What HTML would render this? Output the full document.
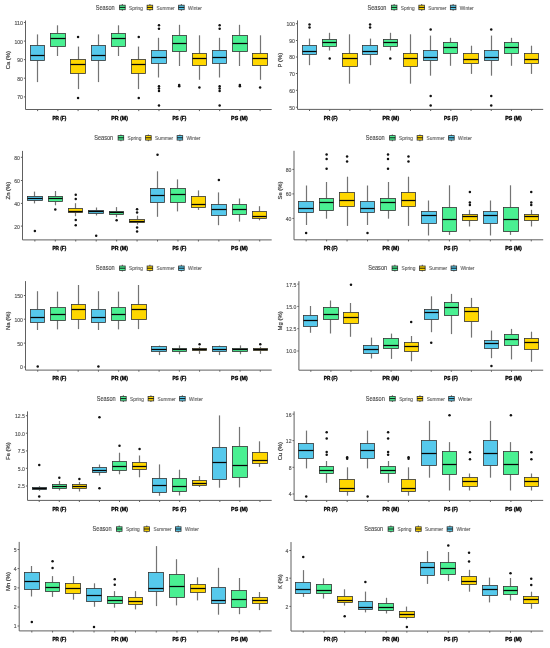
<!DOCTYPE html>
<html><head><meta charset="utf-8"><title>Boxplots</title><style>
*{margin:0;padding:0}
html,body{width:550px;height:648px;background:#fff;overflow:hidden}
svg{display:block}
text{font-family:"Liberation Sans",sans-serif;stroke-width:0.14px;stroke:currentColor}
.ax{stroke:#606060;stroke-width:1.0}
.wk{stroke:#747474;stroke-width:1.2}
.bx{stroke:#333333;stroke-width:0.8}
.md{stroke:#050505;stroke-width:1.25}
.tl{stroke-width:0.16px;font-size:6.0px;fill:#555555;color:#555555;text-anchor:end}
.yl{stroke-width:0.2px;font-size:5.9px;fill:#444;color:#444;text-anchor:middle}
.gl{stroke-width:0.35px;font-size:5.6px;fill:#000;color:#000;font-weight:bold;text-anchor:middle}
.lt{stroke-width:0.1px;font-size:6.3px;fill:#444;color:#444}
.ll{font-size:5.1px;fill:#666;color:#666}
circle{fill:#111}
</style></head>
<body><svg style="will-change:transform" width="550" height="648" viewBox="0 0 550 648">
<g><line x1="37.5" y1="34.4" x2="37.5" y2="45.5" class="wk"/><line x1="37.5" y1="60.5" x2="37.5" y2="82.1" class="wk"/><rect x="30.5" y="45.5" width="14" height="15" fill="#56c9ec" class="bx"/><line x1="30.5" y1="55.5" x2="44.5" y2="55.5" class="md"/><line x1="37.62" y1="109.5" x2="37.62" y2="111.1" class="ax"/><line x1="57.5" y1="25.3" x2="57.5" y2="33.5" class="wk"/><line x1="57.5" y1="46.5" x2="57.5" y2="56" class="wk"/><rect x="50.5" y="33.5" width="15" height="13" fill="#4af092" class="bx"/><line x1="50.5" y1="38.5" x2="65.5" y2="38.5" class="md"/><line x1="57.85" y1="109.5" x2="57.85" y2="111.1" class="ax"/><line x1="78.5" y1="46.6" x2="78.5" y2="59.5" class="wk"/><line x1="78.5" y1="73.5" x2="78.5" y2="89.1" class="wk"/><rect x="70.5" y="59.5" width="15" height="14" fill="#ffd700" class="bx"/><line x1="70.5" y1="64.5" x2="85.5" y2="64.5" class="md"/><circle cx="78.08" cy="36.9" r="1.25"/><circle cx="78.08" cy="98" r="1.25"/><line x1="78.08" y1="109.5" x2="78.08" y2="111.1" class="ax"/><text x="59.35" y="119.72" class="gl" textLength="13.8" lengthAdjust="spacingAndGlyphs">PR (F)</text><line x1="98.5" y1="34.4" x2="98.5" y2="45.5" class="wk"/><line x1="98.5" y1="60.5" x2="98.5" y2="82.1" class="wk"/><rect x="91.5" y="45.5" width="14" height="15" fill="#56c9ec" class="bx"/><line x1="91.5" y1="55.5" x2="105.5" y2="55.5" class="md"/><line x1="98.3" y1="109.5" x2="98.3" y2="111.1" class="ax"/><line x1="118.5" y1="25.3" x2="118.5" y2="33.5" class="wk"/><line x1="118.5" y1="46.5" x2="118.5" y2="56" class="wk"/><rect x="111.5" y="33.5" width="14" height="13" fill="#4af092" class="bx"/><line x1="111.5" y1="38.5" x2="125.5" y2="38.5" class="md"/><line x1="118.53" y1="109.5" x2="118.53" y2="111.1" class="ax"/><line x1="138.5" y1="46.6" x2="138.5" y2="59.5" class="wk"/><line x1="138.5" y1="73.5" x2="138.5" y2="89.1" class="wk"/><rect x="131.5" y="59.5" width="14" height="14" fill="#ffd700" class="bx"/><line x1="131.5" y1="64.5" x2="145.5" y2="64.5" class="md"/><circle cx="138.75" cy="36.9" r="1.25"/><circle cx="138.75" cy="98" r="1.25"/><line x1="138.75" y1="109.5" x2="138.75" y2="111.1" class="ax"/><text x="119.6" y="119.72" class="gl" textLength="16.6" lengthAdjust="spacingAndGlyphs">PR (M)</text><line x1="158.5" y1="37.8" x2="158.5" y2="50.5" class="wk"/><line x1="158.5" y1="63.5" x2="158.5" y2="77.5" class="wk"/><rect x="151.5" y="50.5" width="15" height="13" fill="#56c9ec" class="bx"/><line x1="151.5" y1="57.5" x2="166.5" y2="57.5" class="md"/><circle cx="158.97" cy="25.3" r="1.25"/><circle cx="158.97" cy="28.7" r="1.25"/><circle cx="158.97" cy="86.3" r="1.25"/><circle cx="158.97" cy="88.5" r="1.25"/><circle cx="158.97" cy="91.1" r="1.25"/><circle cx="158.97" cy="105.5" r="1.25"/><line x1="158.97" y1="109.5" x2="158.97" y2="111.1" class="ax"/><line x1="179.5" y1="24.8" x2="179.5" y2="35.5" class="wk"/><line x1="179.5" y1="51.5" x2="179.5" y2="66" class="wk"/><rect x="172.5" y="35.5" width="14" height="16" fill="#4af092" class="bx"/><line x1="172.5" y1="43.5" x2="186.5" y2="43.5" class="md"/><circle cx="179.2" cy="85" r="1.25"/><circle cx="179.2" cy="86.2" r="1.25"/><line x1="179.2" y1="109.5" x2="179.2" y2="111.1" class="ax"/><line x1="199.5" y1="35.3" x2="199.5" y2="53.5" class="wk"/><line x1="199.5" y1="65.5" x2="199.5" y2="79.8" class="wk"/><rect x="192.5" y="53.5" width="14" height="12" fill="#ffd700" class="bx"/><line x1="192.5" y1="58.5" x2="206.5" y2="58.5" class="md"/><circle cx="199.42" cy="87.5" r="1.25"/><line x1="199.42" y1="109.5" x2="199.42" y2="111.1" class="ax"/><text x="179.35" y="119.72" class="gl" textLength="13.8" lengthAdjust="spacingAndGlyphs">PS (F)</text><line x1="219.5" y1="37.8" x2="219.5" y2="50.5" class="wk"/><line x1="219.5" y1="63.5" x2="219.5" y2="77.5" class="wk"/><rect x="212.5" y="50.5" width="14" height="13" fill="#56c9ec" class="bx"/><line x1="212.5" y1="57.5" x2="226.5" y2="57.5" class="md"/><circle cx="219.65" cy="25.3" r="1.25"/><circle cx="219.65" cy="28.7" r="1.25"/><circle cx="219.65" cy="86.3" r="1.25"/><circle cx="219.65" cy="88.5" r="1.25"/><circle cx="219.65" cy="91.1" r="1.25"/><circle cx="219.65" cy="105.5" r="1.25"/><line x1="219.65" y1="109.5" x2="219.65" y2="111.1" class="ax"/><line x1="239.5" y1="24.8" x2="239.5" y2="35.5" class="wk"/><line x1="239.5" y1="51.5" x2="239.5" y2="66" class="wk"/><rect x="232.5" y="35.5" width="15" height="16" fill="#4af092" class="bx"/><line x1="232.5" y1="43.5" x2="247.5" y2="43.5" class="md"/><circle cx="239.87" cy="85" r="1.25"/><circle cx="239.87" cy="86.2" r="1.25"/><line x1="239.87" y1="109.5" x2="239.87" y2="111.1" class="ax"/><line x1="260.5" y1="35.3" x2="260.5" y2="53.5" class="wk"/><line x1="260.5" y1="65.5" x2="260.5" y2="79.8" class="wk"/><rect x="252.5" y="53.5" width="15" height="12" fill="#ffd700" class="bx"/><line x1="252.5" y1="58.5" x2="267.5" y2="58.5" class="md"/><circle cx="260.1" cy="87.5" r="1.25"/><line x1="260.1" y1="109.5" x2="260.1" y2="111.1" class="ax"/><text x="239.4" y="119.72" class="gl" textLength="16.6" lengthAdjust="spacingAndGlyphs">PS (M)</text><line x1="25.5" y1="20.5" x2="25.5" y2="109.5" class="ax"/><line x1="25.5" y1="109.5" x2="271.7" y2="109.5" class="ax"/><line x1="23.9" y1="22.5" x2="25.5" y2="22.5" class="ax"/><text x="22.9" y="24.96" class="tl" textLength="8.51" lengthAdjust="spacingAndGlyphs">110</text><line x1="23.9" y1="41.1" x2="25.5" y2="41.1" class="ax"/><text x="22.9" y="43.56" class="tl" textLength="8.51" lengthAdjust="spacingAndGlyphs">100</text><line x1="23.9" y1="59.6" x2="25.5" y2="59.6" class="ax"/><text x="22.9" y="62.06" class="tl" textLength="5.67" lengthAdjust="spacingAndGlyphs">90</text><line x1="23.9" y1="78.2" x2="25.5" y2="78.2" class="ax"/><text x="22.9" y="80.66" class="tl" textLength="5.67" lengthAdjust="spacingAndGlyphs">80</text><line x1="23.9" y1="96.9" x2="25.5" y2="96.9" class="ax"/><text x="22.9" y="99.36" class="tl" textLength="5.67" lengthAdjust="spacingAndGlyphs">70</text><text transform="translate(9.72,60.2) rotate(-90)" class="yl">Ca (%)</text><text x="95.7" y="9.67" class="lt" textLength="19.0" lengthAdjust="spacingAndGlyphs">Season</text><line x1="122.4" y1="4" x2="122.4" y2="10.8" class="wk"/><rect x="119.6" y="5.2" width="5.6" height="4.5" fill="#4af092" class="bx"/><line x1="119.6" y1="7.4" x2="125.2" y2="7.4" class="md" style="stroke-width:0.9"/><text x="129.1" y="9.64" class="ll" textLength="13.86" lengthAdjust="spacingAndGlyphs">Spring</text><line x1="149.9" y1="4" x2="149.9" y2="10.8" class="wk"/><rect x="147.1" y="5.2" width="5.6" height="4.5" fill="#ffd700" class="bx"/><line x1="147.1" y1="7.4" x2="152.7" y2="7.4" class="md" style="stroke-width:0.9"/><text x="156.6" y="9.64" class="ll" textLength="18.11" lengthAdjust="spacingAndGlyphs">Summer</text><line x1="181.4" y1="4" x2="181.4" y2="10.8" class="wk"/><rect x="178.6" y="5.2" width="5.6" height="4.5" fill="#56c9ec" class="bx"/><line x1="178.6" y1="7.4" x2="184.2" y2="7.4" class="md" style="stroke-width:0.9"/><text x="188.1" y="9.64" class="ll" textLength="13.85" lengthAdjust="spacingAndGlyphs">Winter</text></g>
<g><line x1="309.5" y1="38.6" x2="309.5" y2="45.5" class="wk"/><line x1="309.5" y1="54.5" x2="309.5" y2="65.2" class="wk"/><rect x="302.5" y="45.5" width="14" height="9" fill="#56c9ec" class="bx"/><line x1="302.5" y1="51.5" x2="316.5" y2="51.5" class="md"/><circle cx="309.51" cy="24.5" r="1.25"/><circle cx="309.51" cy="27.4" r="1.25"/><line x1="309.51" y1="109.4" x2="309.51" y2="111" class="ax"/><line x1="329.5" y1="32.8" x2="329.5" y2="39.5" class="wk"/><line x1="329.5" y1="46.5" x2="329.5" y2="50.5" class="wk"/><rect x="322.5" y="39.5" width="14" height="7" fill="#4af092" class="bx"/><line x1="322.5" y1="42.5" x2="336.5" y2="42.5" class="md"/><circle cx="329.7" cy="58.6" r="1.25"/><line x1="329.7" y1="109.4" x2="329.7" y2="111" class="ax"/><line x1="349.5" y1="34.3" x2="349.5" y2="53.5" class="wk"/><line x1="349.5" y1="66.5" x2="349.5" y2="83.7" class="wk"/><rect x="342.5" y="53.5" width="15" height="13" fill="#ffd700" class="bx"/><line x1="342.5" y1="58.5" x2="357.5" y2="58.5" class="md"/><line x1="349.89" y1="109.4" x2="349.89" y2="111" class="ax"/><text x="330.7" y="119.62" class="gl" textLength="13.8" lengthAdjust="spacingAndGlyphs">PR (F)</text><line x1="370.5" y1="38.6" x2="370.5" y2="45.5" class="wk"/><line x1="370.5" y1="54.5" x2="370.5" y2="65.2" class="wk"/><rect x="362.5" y="45.5" width="15" height="9" fill="#56c9ec" class="bx"/><line x1="362.5" y1="51.5" x2="377.5" y2="51.5" class="md"/><circle cx="370.08" cy="24.5" r="1.25"/><circle cx="370.08" cy="27.4" r="1.25"/><line x1="370.08" y1="109.4" x2="370.08" y2="111" class="ax"/><line x1="390.5" y1="32.8" x2="390.5" y2="39.5" class="wk"/><line x1="390.5" y1="46.5" x2="390.5" y2="50.5" class="wk"/><rect x="383.5" y="39.5" width="14" height="7" fill="#4af092" class="bx"/><line x1="383.5" y1="42.5" x2="397.5" y2="42.5" class="md"/><circle cx="390.27" cy="58.6" r="1.25"/><line x1="390.27" y1="109.4" x2="390.27" y2="111" class="ax"/><line x1="410.5" y1="34.3" x2="410.5" y2="53.5" class="wk"/><line x1="410.5" y1="66.5" x2="410.5" y2="83.7" class="wk"/><rect x="403.5" y="53.5" width="14" height="13" fill="#ffd700" class="bx"/><line x1="403.5" y1="58.5" x2="417.5" y2="58.5" class="md"/><line x1="410.47" y1="109.4" x2="410.47" y2="111" class="ax"/><text x="390.9" y="119.62" class="gl" textLength="16.6" lengthAdjust="spacingAndGlyphs">PR (M)</text><line x1="430.5" y1="35.6" x2="430.5" y2="50.5" class="wk"/><line x1="430.5" y1="60.5" x2="430.5" y2="75.7" class="wk"/><rect x="423.5" y="50.5" width="14" height="10" fill="#56c9ec" class="bx"/><line x1="423.5" y1="57.5" x2="437.5" y2="57.5" class="md"/><circle cx="430.66" cy="29.5" r="1.25"/><circle cx="430.66" cy="96.1" r="1.25"/><circle cx="430.66" cy="105.6" r="1.25"/><line x1="430.66" y1="109.4" x2="430.66" y2="111" class="ax"/><line x1="450.5" y1="37.8" x2="450.5" y2="42.5" class="wk"/><line x1="450.5" y1="53.5" x2="450.5" y2="65.8" class="wk"/><rect x="443.5" y="42.5" width="14" height="11" fill="#4af092" class="bx"/><line x1="443.5" y1="47.5" x2="457.5" y2="47.5" class="md"/><line x1="450.85" y1="109.4" x2="450.85" y2="111" class="ax"/><line x1="471.5" y1="45.7" x2="471.5" y2="53.5" class="wk"/><line x1="471.5" y1="63.5" x2="471.5" y2="73.9" class="wk"/><rect x="463.5" y="53.5" width="15" height="10" fill="#ffd700" class="bx"/><line x1="463.5" y1="59.5" x2="478.5" y2="59.5" class="md"/><line x1="471.04" y1="109.4" x2="471.04" y2="111" class="ax"/><text x="451" y="119.62" class="gl" textLength="13.8" lengthAdjust="spacingAndGlyphs">PS (F)</text><line x1="491.5" y1="35.6" x2="491.5" y2="50.5" class="wk"/><line x1="491.5" y1="60.5" x2="491.5" y2="75.7" class="wk"/><rect x="484.5" y="50.5" width="14" height="10" fill="#56c9ec" class="bx"/><line x1="484.5" y1="57.5" x2="498.5" y2="57.5" class="md"/><circle cx="491.23" cy="29.5" r="1.25"/><circle cx="491.23" cy="96.1" r="1.25"/><circle cx="491.23" cy="105.6" r="1.25"/><line x1="491.23" y1="109.4" x2="491.23" y2="111" class="ax"/><line x1="511.5" y1="37.8" x2="511.5" y2="42.5" class="wk"/><line x1="511.5" y1="53.5" x2="511.5" y2="65.8" class="wk"/><rect x="504.5" y="42.5" width="14" height="11" fill="#4af092" class="bx"/><line x1="504.5" y1="47.5" x2="518.5" y2="47.5" class="md"/><line x1="511.43" y1="109.4" x2="511.43" y2="111" class="ax"/><line x1="531.5" y1="45.7" x2="531.5" y2="53.5" class="wk"/><line x1="531.5" y1="63.5" x2="531.5" y2="73.9" class="wk"/><rect x="524.5" y="53.5" width="14" height="10" fill="#ffd700" class="bx"/><line x1="524.5" y1="59.5" x2="538.5" y2="59.5" class="md"/><line x1="531.62" y1="109.4" x2="531.62" y2="111" class="ax"/><text x="513.5" y="119.62" class="gl" textLength="16.6" lengthAdjust="spacingAndGlyphs">PS (M)</text><line x1="297.5" y1="20.4" x2="297.5" y2="109.4" class="ax"/><line x1="297.5" y1="109.4" x2="543.2" y2="109.4" class="ax"/><line x1="295.9" y1="23.7" x2="297.5" y2="23.7" class="ax"/><text x="294.9" y="26.16" class="tl" textLength="8.51" lengthAdjust="spacingAndGlyphs">100</text><line x1="295.9" y1="40.5" x2="297.5" y2="40.5" class="ax"/><text x="294.9" y="42.96" class="tl" textLength="5.67" lengthAdjust="spacingAndGlyphs">90</text><line x1="295.9" y1="57" x2="297.5" y2="57" class="ax"/><text x="294.9" y="59.46" class="tl" textLength="5.67" lengthAdjust="spacingAndGlyphs">80</text><line x1="295.9" y1="73.5" x2="297.5" y2="73.5" class="ax"/><text x="294.9" y="75.96" class="tl" textLength="5.67" lengthAdjust="spacingAndGlyphs">70</text><line x1="295.9" y1="90.3" x2="297.5" y2="90.3" class="ax"/><text x="294.9" y="92.76" class="tl" textLength="5.67" lengthAdjust="spacingAndGlyphs">60</text><line x1="295.9" y1="107.2" x2="297.5" y2="107.2" class="ax"/><text x="294.9" y="109.66" class="tl" textLength="5.67" lengthAdjust="spacingAndGlyphs">50</text><text transform="translate(282.02,60.1) rotate(-90)" class="yl">P (%)</text><text x="367.45" y="9.67" class="lt" textLength="19.0" lengthAdjust="spacingAndGlyphs">Season</text><line x1="394.15" y1="4" x2="394.15" y2="10.8" class="wk"/><rect x="391.35" y="5.2" width="5.6" height="4.5" fill="#4af092" class="bx"/><line x1="391.35" y1="7.4" x2="396.95" y2="7.4" class="md" style="stroke-width:0.9"/><text x="400.85" y="9.64" class="ll" textLength="13.86" lengthAdjust="spacingAndGlyphs">Spring</text><line x1="421.65" y1="4" x2="421.65" y2="10.8" class="wk"/><rect x="418.85" y="5.2" width="5.6" height="4.5" fill="#ffd700" class="bx"/><line x1="418.85" y1="7.4" x2="424.45" y2="7.4" class="md" style="stroke-width:0.9"/><text x="428.35" y="9.64" class="ll" textLength="18.11" lengthAdjust="spacingAndGlyphs">Summer</text><line x1="453.15" y1="4" x2="453.15" y2="10.8" class="wk"/><rect x="450.35" y="5.2" width="5.6" height="4.5" fill="#56c9ec" class="bx"/><line x1="450.35" y1="7.4" x2="455.95" y2="7.4" class="md" style="stroke-width:0.9"/><text x="459.85" y="9.64" class="ll" textLength="13.85" lengthAdjust="spacingAndGlyphs">Winter</text></g>
<g><line x1="34.5" y1="191.6" x2="34.5" y2="196.5" class="wk"/><line x1="34.5" y1="200.5" x2="34.5" y2="203.4" class="wk"/><rect x="27.5" y="196.5" width="15" height="4" fill="#56c9ec" class="bx"/><line x1="27.5" y1="198.5" x2="42.5" y2="198.5" class="md"/><circle cx="34.86" cy="231" r="1.25"/><line x1="34.86" y1="239.9" x2="34.86" y2="241.5" class="ax"/><line x1="55.5" y1="191" x2="55.5" y2="196.5" class="wk"/><line x1="55.5" y1="201.5" x2="55.5" y2="205.3" class="wk"/><rect x="48.5" y="196.5" width="14" height="5" fill="#4af092" class="bx"/><line x1="48.5" y1="198.5" x2="62.5" y2="198.5" class="md"/><circle cx="55.3" cy="209.5" r="1.25"/><line x1="55.3" y1="239.9" x2="55.3" y2="241.5" class="ax"/><line x1="75.5" y1="203.2" x2="75.5" y2="208.5" class="wk"/><line x1="75.5" y1="212.5" x2="75.5" y2="216.2" class="wk"/><rect x="68.5" y="208.5" width="14" height="4" fill="#ffd700" class="bx"/><line x1="68.5" y1="211.5" x2="82.5" y2="211.5" class="md"/><circle cx="75.74" cy="194.8" r="1.25"/><circle cx="75.74" cy="198.9" r="1.25"/><circle cx="75.74" cy="220" r="1.25"/><circle cx="75.74" cy="225.3" r="1.25"/><line x1="75.74" y1="239.9" x2="75.74" y2="241.5" class="ax"/><text x="59.35" y="250.12" class="gl" textLength="13.8" lengthAdjust="spacingAndGlyphs">PR (F)</text><line x1="96.5" y1="207.5" x2="96.5" y2="210.5" class="wk"/><line x1="96.5" y1="213.5" x2="96.5" y2="215.5" class="wk"/><rect x="88.5" y="210.5" width="15" height="3" fill="#56c9ec" class="bx"/><line x1="88.5" y1="211.5" x2="103.5" y2="211.5" class="md"/><circle cx="96.19" cy="235.7" r="1.25"/><line x1="96.19" y1="239.9" x2="96.19" y2="241.5" class="ax"/><line x1="116.5" y1="207.1" x2="116.5" y2="211.5" class="wk"/><line x1="116.5" y1="214.5" x2="116.5" y2="217.3" class="wk"/><rect x="109.5" y="211.5" width="14" height="3" fill="#4af092" class="bx"/><line x1="109.5" y1="212.5" x2="123.5" y2="212.5" class="md"/><circle cx="116.63" cy="220.3" r="1.25"/><line x1="116.63" y1="239.9" x2="116.63" y2="241.5" class="ax"/><line x1="137.5" y1="215.7" x2="137.5" y2="219.5" class="wk"/><line x1="137.5" y1="222.5" x2="137.5" y2="224.6" class="wk"/><rect x="129.5" y="219.5" width="15" height="3" fill="#ffd700" class="bx"/><line x1="129.5" y1="221.5" x2="144.5" y2="221.5" class="md"/><circle cx="137.07" cy="209.2" r="1.25"/><circle cx="137.07" cy="212.5" r="1.25"/><circle cx="137.07" cy="227.5" r="1.25"/><circle cx="137.07" cy="231.6" r="1.25"/><line x1="137.07" y1="239.9" x2="137.07" y2="241.5" class="ax"/><text x="119.6" y="250.12" class="gl" textLength="16.6" lengthAdjust="spacingAndGlyphs">PR (M)</text><line x1="157.5" y1="171.3" x2="157.5" y2="188.5" class="wk"/><line x1="157.5" y1="202.5" x2="157.5" y2="216.8" class="wk"/><rect x="150.5" y="188.5" width="14" height="14" fill="#56c9ec" class="bx"/><line x1="150.5" y1="195.5" x2="164.5" y2="195.5" class="md"/><circle cx="157.52" cy="154.7" r="1.25"/><line x1="157.52" y1="239.9" x2="157.52" y2="241.5" class="ax"/><line x1="177.5" y1="179.4" x2="177.5" y2="188.5" class="wk"/><line x1="177.5" y1="202.5" x2="177.5" y2="211.4" class="wk"/><rect x="170.5" y="188.5" width="15" height="14" fill="#4af092" class="bx"/><line x1="170.5" y1="194.5" x2="185.5" y2="194.5" class="md"/><line x1="177.96" y1="239.9" x2="177.96" y2="241.5" class="ax"/><line x1="198.5" y1="190.4" x2="198.5" y2="196.5" class="wk"/><line x1="198.5" y1="207.5" x2="198.5" y2="209.9" class="wk"/><rect x="191.5" y="196.5" width="14" height="11" fill="#ffd700" class="bx"/><line x1="191.5" y1="204.5" x2="205.5" y2="204.5" class="md"/><line x1="198.4" y1="239.9" x2="198.4" y2="241.5" class="ax"/><text x="179.35" y="250.12" class="gl" textLength="13.8" lengthAdjust="spacingAndGlyphs">PS (F)</text><line x1="218.5" y1="192.4" x2="218.5" y2="204.5" class="wk"/><line x1="218.5" y1="215.5" x2="218.5" y2="225.2" class="wk"/><rect x="211.5" y="204.5" width="15" height="11" fill="#56c9ec" class="bx"/><line x1="211.5" y1="209.5" x2="226.5" y2="209.5" class="md"/><circle cx="218.85" cy="179.9" r="1.25"/><line x1="218.85" y1="239.9" x2="218.85" y2="241.5" class="ax"/><line x1="239.5" y1="198.5" x2="239.5" y2="204.5" class="wk"/><line x1="239.5" y1="214.5" x2="239.5" y2="221.6" class="wk"/><rect x="232.5" y="204.5" width="14" height="10" fill="#4af092" class="bx"/><line x1="232.5" y1="209.5" x2="246.5" y2="209.5" class="md"/><line x1="239.29" y1="239.9" x2="239.29" y2="241.5" class="ax"/><line x1="259.5" y1="206.2" x2="259.5" y2="211.5" class="wk"/><line x1="259.5" y1="218.5" x2="259.5" y2="220.3" class="wk"/><rect x="252.5" y="211.5" width="14" height="7" fill="#ffd700" class="bx"/><line x1="252.5" y1="216.5" x2="266.5" y2="216.5" class="md"/><line x1="259.73" y1="239.9" x2="259.73" y2="241.5" class="ax"/><text x="239.4" y="250.12" class="gl" textLength="16.6" lengthAdjust="spacingAndGlyphs">PS (M)</text><line x1="22.5" y1="150.9" x2="22.5" y2="239.9" class="ax"/><line x1="22.5" y1="239.9" x2="271.7" y2="239.9" class="ax"/><line x1="20.9" y1="157.3" x2="22.5" y2="157.3" class="ax"/><text x="19.9" y="159.76" class="tl" textLength="5.67" lengthAdjust="spacingAndGlyphs">80</text><line x1="20.9" y1="180.5" x2="22.5" y2="180.5" class="ax"/><text x="19.9" y="182.96" class="tl" textLength="5.67" lengthAdjust="spacingAndGlyphs">60</text><line x1="20.9" y1="203.4" x2="22.5" y2="203.4" class="ax"/><text x="19.9" y="205.86" class="tl" textLength="5.67" lengthAdjust="spacingAndGlyphs">40</text><line x1="20.9" y1="226.1" x2="22.5" y2="226.1" class="ax"/><text x="19.9" y="228.56" class="tl" textLength="5.67" lengthAdjust="spacingAndGlyphs">20</text><text transform="translate(9.72,190.6) rotate(-90)" class="yl">Zn (%)</text><text x="94.2" y="140.07" class="lt" textLength="19.0" lengthAdjust="spacingAndGlyphs">Season</text><line x1="120.9" y1="134.4" x2="120.9" y2="141.2" class="wk"/><rect x="118.1" y="135.6" width="5.6" height="4.5" fill="#4af092" class="bx"/><line x1="118.1" y1="137.8" x2="123.7" y2="137.8" class="md" style="stroke-width:0.9"/><text x="127.6" y="140.04" class="ll" textLength="13.86" lengthAdjust="spacingAndGlyphs">Spring</text><line x1="148.4" y1="134.4" x2="148.4" y2="141.2" class="wk"/><rect x="145.6" y="135.6" width="5.6" height="4.5" fill="#ffd700" class="bx"/><line x1="145.6" y1="137.8" x2="151.2" y2="137.8" class="md" style="stroke-width:0.9"/><text x="155.1" y="140.04" class="ll" textLength="18.11" lengthAdjust="spacingAndGlyphs">Summer</text><line x1="179.9" y1="134.4" x2="179.9" y2="141.2" class="wk"/><rect x="177.1" y="135.6" width="5.6" height="4.5" fill="#56c9ec" class="bx"/><line x1="177.1" y1="137.8" x2="182.7" y2="137.8" class="md" style="stroke-width:0.9"/><text x="186.6" y="140.04" class="ll" textLength="13.85" lengthAdjust="spacingAndGlyphs">Winter</text></g>
<g><line x1="306.5" y1="185.5" x2="306.5" y2="201.5" class="wk"/><line x1="306.5" y1="212.5" x2="306.5" y2="225" class="wk"/><rect x="298.5" y="201.5" width="15" height="11" fill="#56c9ec" class="bx"/><line x1="298.5" y1="208.5" x2="313.5" y2="208.5" class="md"/><circle cx="306.13" cy="233" r="1.25"/><line x1="306.13" y1="239.8" x2="306.13" y2="241.4" class="ax"/><line x1="326.5" y1="182" x2="326.5" y2="198.5" class="wk"/><line x1="326.5" y1="210.5" x2="326.5" y2="218.7" class="wk"/><rect x="319.5" y="198.5" width="14" height="12" fill="#4af092" class="bx"/><line x1="319.5" y1="202.5" x2="333.5" y2="202.5" class="md"/><circle cx="326.6" cy="154.6" r="1.25"/><circle cx="326.6" cy="158.9" r="1.25"/><circle cx="326.6" cy="168.8" r="1.25"/><line x1="326.6" y1="239.8" x2="326.6" y2="241.4" class="ax"/><line x1="347.5" y1="176.7" x2="347.5" y2="192.5" class="wk"/><line x1="347.5" y1="206.5" x2="347.5" y2="225.9" class="wk"/><rect x="339.5" y="192.5" width="15" height="14" fill="#ffd700" class="bx"/><line x1="339.5" y1="200.5" x2="354.5" y2="200.5" class="md"/><circle cx="347.07" cy="156.6" r="1.25"/><circle cx="347.07" cy="161.5" r="1.25"/><line x1="347.07" y1="239.8" x2="347.07" y2="241.4" class="ax"/><text x="330.7" y="250.02" class="gl" textLength="13.8" lengthAdjust="spacingAndGlyphs">PR (F)</text><line x1="367.5" y1="185.5" x2="367.5" y2="201.5" class="wk"/><line x1="367.5" y1="212.5" x2="367.5" y2="225" class="wk"/><rect x="360.5" y="201.5" width="14" height="11" fill="#56c9ec" class="bx"/><line x1="360.5" y1="208.5" x2="374.5" y2="208.5" class="md"/><circle cx="367.53" cy="233" r="1.25"/><line x1="367.53" y1="239.8" x2="367.53" y2="241.4" class="ax"/><line x1="388.5" y1="182" x2="388.5" y2="198.5" class="wk"/><line x1="388.5" y1="210.5" x2="388.5" y2="218.7" class="wk"/><rect x="380.5" y="198.5" width="15" height="12" fill="#4af092" class="bx"/><line x1="380.5" y1="202.5" x2="395.5" y2="202.5" class="md"/><circle cx="388" cy="154.6" r="1.25"/><circle cx="388" cy="158.9" r="1.25"/><circle cx="388" cy="168.8" r="1.25"/><line x1="388" y1="239.8" x2="388" y2="241.4" class="ax"/><line x1="408.5" y1="176.7" x2="408.5" y2="192.5" class="wk"/><line x1="408.5" y1="206.5" x2="408.5" y2="225.9" class="wk"/><rect x="401.5" y="192.5" width="14" height="14" fill="#ffd700" class="bx"/><line x1="401.5" y1="200.5" x2="415.5" y2="200.5" class="md"/><circle cx="408.47" cy="156.6" r="1.25"/><circle cx="408.47" cy="161.5" r="1.25"/><line x1="408.47" y1="239.8" x2="408.47" y2="241.4" class="ax"/><text x="390.9" y="250.02" class="gl" textLength="16.6" lengthAdjust="spacingAndGlyphs">PR (M)</text><line x1="428.5" y1="200.5" x2="428.5" y2="211.5" class="wk"/><line x1="428.5" y1="223.5" x2="428.5" y2="235.5" class="wk"/><rect x="421.5" y="211.5" width="15" height="12" fill="#56c9ec" class="bx"/><line x1="421.5" y1="215.5" x2="436.5" y2="215.5" class="md"/><line x1="428.93" y1="239.8" x2="428.93" y2="241.4" class="ax"/><line x1="449.5" y1="185.3" x2="449.5" y2="207.5" class="wk"/><line x1="449.5" y1="231.5" x2="449.5" y2="234.9" class="wk"/><rect x="442.5" y="207.5" width="14" height="24" fill="#4af092" class="bx"/><line x1="442.5" y1="219.5" x2="456.5" y2="219.5" class="md"/><line x1="449.4" y1="239.8" x2="449.4" y2="241.4" class="ax"/><line x1="469.5" y1="209.8" x2="469.5" y2="214.5" class="wk"/><line x1="469.5" y1="220.5" x2="469.5" y2="226.5" class="wk"/><rect x="462.5" y="214.5" width="15" height="6" fill="#ffd700" class="bx"/><line x1="462.5" y1="216.5" x2="477.5" y2="216.5" class="md"/><circle cx="469.87" cy="192" r="1.25"/><circle cx="469.87" cy="202.5" r="1.25"/><circle cx="469.87" cy="204.9" r="1.25"/><line x1="469.87" y1="239.8" x2="469.87" y2="241.4" class="ax"/><text x="451" y="250.02" class="gl" textLength="13.8" lengthAdjust="spacingAndGlyphs">PS (F)</text><line x1="490.5" y1="200.5" x2="490.5" y2="211.5" class="wk"/><line x1="490.5" y1="223.5" x2="490.5" y2="235.5" class="wk"/><rect x="483.5" y="211.5" width="14" height="12" fill="#56c9ec" class="bx"/><line x1="483.5" y1="215.5" x2="497.5" y2="215.5" class="md"/><line x1="490.33" y1="239.8" x2="490.33" y2="241.4" class="ax"/><line x1="510.5" y1="185.3" x2="510.5" y2="207.5" class="wk"/><line x1="510.5" y1="231.5" x2="510.5" y2="234.9" class="wk"/><rect x="503.5" y="207.5" width="15" height="24" fill="#4af092" class="bx"/><line x1="503.5" y1="219.5" x2="518.5" y2="219.5" class="md"/><line x1="510.8" y1="239.8" x2="510.8" y2="241.4" class="ax"/><line x1="531.5" y1="209.8" x2="531.5" y2="214.5" class="wk"/><line x1="531.5" y1="220.5" x2="531.5" y2="226.5" class="wk"/><rect x="524.5" y="214.5" width="14" height="6" fill="#ffd700" class="bx"/><line x1="524.5" y1="216.5" x2="538.5" y2="216.5" class="md"/><circle cx="531.27" cy="192" r="1.25"/><circle cx="531.27" cy="202.5" r="1.25"/><circle cx="531.27" cy="204.9" r="1.25"/><line x1="531.27" y1="239.8" x2="531.27" y2="241.4" class="ax"/><text x="513.5" y="250.02" class="gl" textLength="16.6" lengthAdjust="spacingAndGlyphs">PS (M)</text><line x1="294" y1="150.8" x2="294" y2="239.8" class="ax"/><line x1="294" y1="239.8" x2="543.2" y2="239.8" class="ax"/><line x1="292.4" y1="169.4" x2="294" y2="169.4" class="ax"/><text x="291.4" y="171.86" class="tl" textLength="5.67" lengthAdjust="spacingAndGlyphs">80</text><line x1="292.4" y1="193.9" x2="294" y2="193.9" class="ax"/><text x="291.4" y="196.36" class="tl" textLength="5.67" lengthAdjust="spacingAndGlyphs">60</text><line x1="292.4" y1="218.4" x2="294" y2="218.4" class="ax"/><text x="291.4" y="220.86" class="tl" textLength="5.67" lengthAdjust="spacingAndGlyphs">40</text><text transform="translate(282.02,190.5) rotate(-90)" class="yl">Se (%)</text><text x="365.7" y="140.07" class="lt" textLength="19.0" lengthAdjust="spacingAndGlyphs">Season</text><line x1="392.4" y1="134.4" x2="392.4" y2="141.2" class="wk"/><rect x="389.6" y="135.6" width="5.6" height="4.5" fill="#4af092" class="bx"/><line x1="389.6" y1="137.8" x2="395.2" y2="137.8" class="md" style="stroke-width:0.9"/><text x="399.1" y="140.04" class="ll" textLength="13.86" lengthAdjust="spacingAndGlyphs">Spring</text><line x1="419.9" y1="134.4" x2="419.9" y2="141.2" class="wk"/><rect x="417.1" y="135.6" width="5.6" height="4.5" fill="#ffd700" class="bx"/><line x1="417.1" y1="137.8" x2="422.7" y2="137.8" class="md" style="stroke-width:0.9"/><text x="426.6" y="140.04" class="ll" textLength="18.11" lengthAdjust="spacingAndGlyphs">Summer</text><line x1="451.4" y1="134.4" x2="451.4" y2="141.2" class="wk"/><rect x="448.6" y="135.6" width="5.6" height="4.5" fill="#56c9ec" class="bx"/><line x1="448.6" y1="137.8" x2="454.2" y2="137.8" class="md" style="stroke-width:0.9"/><text x="458.1" y="140.04" class="ll" textLength="13.85" lengthAdjust="spacingAndGlyphs">Winter</text></g>
<g><line x1="37.5" y1="291.2" x2="37.5" y2="309.5" class="wk"/><line x1="37.5" y1="322.5" x2="37.5" y2="330" class="wk"/><rect x="30.5" y="309.5" width="14" height="13" fill="#56c9ec" class="bx"/><line x1="30.5" y1="317.5" x2="44.5" y2="317.5" class="md"/><circle cx="37.72" cy="366.4" r="1.25"/><line x1="37.72" y1="370.1" x2="37.72" y2="371.7" class="ax"/><line x1="57.5" y1="291.6" x2="57.5" y2="307.5" class="wk"/><line x1="57.5" y1="320.5" x2="57.5" y2="329.4" class="wk"/><rect x="50.5" y="307.5" width="15" height="13" fill="#4af092" class="bx"/><line x1="50.5" y1="314.5" x2="65.5" y2="314.5" class="md"/><line x1="57.95" y1="370.1" x2="57.95" y2="371.7" class="ax"/><line x1="78.5" y1="285" x2="78.5" y2="304.5" class="wk"/><line x1="78.5" y1="319.5" x2="78.5" y2="329.1" class="wk"/><rect x="71.5" y="304.5" width="14" height="15" fill="#ffd700" class="bx"/><line x1="71.5" y1="309.5" x2="85.5" y2="309.5" class="md"/><line x1="78.18" y1="370.1" x2="78.18" y2="371.7" class="ax"/><text x="59.35" y="380.32" class="gl" textLength="13.8" lengthAdjust="spacingAndGlyphs">PR (F)</text><line x1="98.5" y1="291.2" x2="98.5" y2="309.5" class="wk"/><line x1="98.5" y1="322.5" x2="98.5" y2="330" class="wk"/><rect x="91.5" y="309.5" width="14" height="13" fill="#56c9ec" class="bx"/><line x1="91.5" y1="317.5" x2="105.5" y2="317.5" class="md"/><circle cx="98.42" cy="366.4" r="1.25"/><line x1="98.42" y1="370.1" x2="98.42" y2="371.7" class="ax"/><line x1="118.5" y1="291.6" x2="118.5" y2="307.5" class="wk"/><line x1="118.5" y1="320.5" x2="118.5" y2="329.4" class="wk"/><rect x="111.5" y="307.5" width="14" height="13" fill="#4af092" class="bx"/><line x1="111.5" y1="314.5" x2="125.5" y2="314.5" class="md"/><line x1="118.65" y1="370.1" x2="118.65" y2="371.7" class="ax"/><line x1="138.5" y1="285" x2="138.5" y2="304.5" class="wk"/><line x1="138.5" y1="319.5" x2="138.5" y2="329.1" class="wk"/><rect x="131.5" y="304.5" width="15" height="15" fill="#ffd700" class="bx"/><line x1="131.5" y1="309.5" x2="146.5" y2="309.5" class="md"/><line x1="138.88" y1="370.1" x2="138.88" y2="371.7" class="ax"/><text x="119.6" y="380.32" class="gl" textLength="16.6" lengthAdjust="spacingAndGlyphs">PR (M)</text><line x1="159.5" y1="345.6" x2="159.5" y2="346.5" class="wk"/><line x1="159.5" y1="351.5" x2="159.5" y2="355.1" class="wk"/><rect x="151.5" y="346.5" width="15" height="5" fill="#56c9ec" class="bx"/><line x1="151.5" y1="349.5" x2="166.5" y2="349.5" class="md"/><line x1="159.12" y1="370.1" x2="159.12" y2="371.7" class="ax"/><line x1="179.5" y1="345.4" x2="179.5" y2="348.5" class="wk"/><line x1="179.5" y1="351.5" x2="179.5" y2="354.3" class="wk"/><rect x="172.5" y="348.5" width="14" height="3" fill="#4af092" class="bx"/><line x1="172.5" y1="349.5" x2="186.5" y2="349.5" class="md"/><line x1="179.35" y1="370.1" x2="179.35" y2="371.7" class="ax"/><line x1="199.5" y1="346.8" x2="199.5" y2="348.5" class="wk"/><line x1="199.5" y1="350.5" x2="199.5" y2="353.9" class="wk"/><rect x="192.5" y="348.5" width="14" height="2" fill="#ffd700" class="bx"/><line x1="192.5" y1="349.5" x2="206.5" y2="349.5" class="md"/><circle cx="199.58" cy="344.2" r="1.25"/><line x1="199.58" y1="370.1" x2="199.58" y2="371.7" class="ax"/><text x="179.35" y="380.32" class="gl" textLength="13.8" lengthAdjust="spacingAndGlyphs">PS (F)</text><line x1="219.5" y1="345.6" x2="219.5" y2="346.5" class="wk"/><line x1="219.5" y1="351.5" x2="219.5" y2="355.1" class="wk"/><rect x="212.5" y="346.5" width="14" height="5" fill="#56c9ec" class="bx"/><line x1="212.5" y1="349.5" x2="226.5" y2="349.5" class="md"/><line x1="219.82" y1="370.1" x2="219.82" y2="371.7" class="ax"/><line x1="240.5" y1="345.4" x2="240.5" y2="348.5" class="wk"/><line x1="240.5" y1="351.5" x2="240.5" y2="354.3" class="wk"/><rect x="232.5" y="348.5" width="15" height="3" fill="#4af092" class="bx"/><line x1="232.5" y1="349.5" x2="247.5" y2="349.5" class="md"/><line x1="240.05" y1="370.1" x2="240.05" y2="371.7" class="ax"/><line x1="260.5" y1="346.8" x2="260.5" y2="348.5" class="wk"/><line x1="260.5" y1="350.5" x2="260.5" y2="353.9" class="wk"/><rect x="253.5" y="348.5" width="14" height="2" fill="#ffd700" class="bx"/><line x1="253.5" y1="349.5" x2="267.5" y2="349.5" class="md"/><circle cx="260.28" cy="344.2" r="1.25"/><line x1="260.28" y1="370.1" x2="260.28" y2="371.7" class="ax"/><text x="239.4" y="380.32" class="gl" textLength="16.6" lengthAdjust="spacingAndGlyphs">PS (M)</text><line x1="25.5" y1="281.1" x2="25.5" y2="370.1" class="ax"/><line x1="25.5" y1="370.1" x2="271.7" y2="370.1" class="ax"/><line x1="23.9" y1="295.5" x2="25.5" y2="295.5" class="ax"/><text x="22.9" y="297.96" class="tl" textLength="8.51" lengthAdjust="spacingAndGlyphs">150</text><line x1="23.9" y1="319.2" x2="25.5" y2="319.2" class="ax"/><text x="22.9" y="321.66" class="tl" textLength="8.51" lengthAdjust="spacingAndGlyphs">100</text><line x1="23.9" y1="343.1" x2="25.5" y2="343.1" class="ax"/><text x="22.9" y="345.56" class="tl" textLength="5.67" lengthAdjust="spacingAndGlyphs">50</text><line x1="23.9" y1="367" x2="25.5" y2="367" class="ax"/><text x="22.9" y="369.46" class="tl" textLength="2.84" lengthAdjust="spacingAndGlyphs">0</text><text transform="translate(9.72,320.8) rotate(-90)" class="yl">Na (%)</text><text x="95.7" y="270.47" class="lt" textLength="19.0" lengthAdjust="spacingAndGlyphs">Season</text><line x1="122.4" y1="264.8" x2="122.4" y2="271.6" class="wk"/><rect x="119.6" y="266" width="5.6" height="4.5" fill="#4af092" class="bx"/><line x1="119.6" y1="268.2" x2="125.2" y2="268.2" class="md" style="stroke-width:0.9"/><text x="129.1" y="270.44" class="ll" textLength="13.86" lengthAdjust="spacingAndGlyphs">Spring</text><line x1="149.9" y1="264.8" x2="149.9" y2="271.6" class="wk"/><rect x="147.1" y="266" width="5.6" height="4.5" fill="#ffd700" class="bx"/><line x1="147.1" y1="268.2" x2="152.7" y2="268.2" class="md" style="stroke-width:0.9"/><text x="156.6" y="270.44" class="ll" textLength="18.11" lengthAdjust="spacingAndGlyphs">Summer</text><line x1="181.4" y1="264.8" x2="181.4" y2="271.6" class="wk"/><rect x="178.6" y="266" width="5.6" height="4.5" fill="#56c9ec" class="bx"/><line x1="178.6" y1="268.2" x2="184.2" y2="268.2" class="md" style="stroke-width:0.9"/><text x="188.1" y="270.44" class="ll" textLength="13.85" lengthAdjust="spacingAndGlyphs">Winter</text></g>
<g><line x1="310.5" y1="306" x2="310.5" y2="315.5" class="wk"/><line x1="310.5" y1="326.5" x2="310.5" y2="332.8" class="wk"/><rect x="303.5" y="315.5" width="14" height="11" fill="#56c9ec" class="bx"/><line x1="303.5" y1="320.5" x2="317.5" y2="320.5" class="md"/><line x1="310.83" y1="370.2" x2="310.83" y2="371.8" class="ax"/><line x1="330.5" y1="300.5" x2="330.5" y2="307.5" class="wk"/><line x1="330.5" y1="319.5" x2="330.5" y2="333.5" class="wk"/><rect x="323.5" y="307.5" width="15" height="12" fill="#4af092" class="bx"/><line x1="323.5" y1="314.5" x2="338.5" y2="314.5" class="md"/><line x1="330.9" y1="370.2" x2="330.9" y2="371.8" class="ax"/><line x1="350.5" y1="303" x2="350.5" y2="312.5" class="wk"/><line x1="350.5" y1="323.5" x2="350.5" y2="336.8" class="wk"/><rect x="343.5" y="312.5" width="15" height="11" fill="#ffd700" class="bx"/><line x1="343.5" y1="317.5" x2="358.5" y2="317.5" class="md"/><circle cx="350.97" cy="284.8" r="1.25"/><line x1="350.97" y1="370.2" x2="350.97" y2="371.8" class="ax"/><text x="330.7" y="380.42" class="gl" textLength="13.8" lengthAdjust="spacingAndGlyphs">PR (F)</text><line x1="371.5" y1="337.6" x2="371.5" y2="345.5" class="wk"/><line x1="371.5" y1="353.5" x2="371.5" y2="358.5" class="wk"/><rect x="363.5" y="345.5" width="15" height="8" fill="#56c9ec" class="bx"/><line x1="363.5" y1="349.5" x2="378.5" y2="349.5" class="md"/><line x1="371.03" y1="370.2" x2="371.03" y2="371.8" class="ax"/><line x1="391.5" y1="333.6" x2="391.5" y2="338.5" class="wk"/><line x1="391.5" y1="348.5" x2="391.5" y2="358.9" class="wk"/><rect x="383.5" y="338.5" width="15" height="10" fill="#4af092" class="bx"/><line x1="383.5" y1="345.5" x2="398.5" y2="345.5" class="md"/><line x1="391.1" y1="370.2" x2="391.1" y2="371.8" class="ax"/><line x1="411.5" y1="336" x2="411.5" y2="342.5" class="wk"/><line x1="411.5" y1="351.5" x2="411.5" y2="361.3" class="wk"/><rect x="404.5" y="342.5" width="14" height="9" fill="#ffd700" class="bx"/><line x1="404.5" y1="346.5" x2="418.5" y2="346.5" class="md"/><circle cx="411.17" cy="322" r="1.25"/><line x1="411.17" y1="370.2" x2="411.17" y2="371.8" class="ax"/><text x="390.9" y="380.42" class="gl" textLength="16.6" lengthAdjust="spacingAndGlyphs">PR (M)</text><line x1="431.5" y1="296.3" x2="431.5" y2="309.5" class="wk"/><line x1="431.5" y1="319.5" x2="431.5" y2="332.2" class="wk"/><rect x="424.5" y="309.5" width="14" height="10" fill="#56c9ec" class="bx"/><line x1="424.5" y1="312.5" x2="438.5" y2="312.5" class="md"/><circle cx="431.23" cy="342.8" r="1.25"/><line x1="431.23" y1="370.2" x2="431.23" y2="371.8" class="ax"/><line x1="451.5" y1="293.9" x2="451.5" y2="302.5" class="wk"/><line x1="451.5" y1="315.5" x2="451.5" y2="334.1" class="wk"/><rect x="444.5" y="302.5" width="14" height="13" fill="#4af092" class="bx"/><line x1="444.5" y1="307.5" x2="458.5" y2="307.5" class="md"/><line x1="451.3" y1="370.2" x2="451.3" y2="371.8" class="ax"/><line x1="471.5" y1="297.9" x2="471.5" y2="307.5" class="wk"/><line x1="471.5" y1="321.5" x2="471.5" y2="337.6" class="wk"/><rect x="464.5" y="307.5" width="14" height="14" fill="#ffd700" class="bx"/><line x1="464.5" y1="311.5" x2="478.5" y2="311.5" class="md"/><line x1="471.37" y1="370.2" x2="471.37" y2="371.8" class="ax"/><text x="451" y="380.42" class="gl" textLength="13.8" lengthAdjust="spacingAndGlyphs">PS (F)</text><line x1="491.5" y1="330.6" x2="491.5" y2="340.5" class="wk"/><line x1="491.5" y1="348.5" x2="491.5" y2="358.2" class="wk"/><rect x="484.5" y="340.5" width="14" height="8" fill="#56c9ec" class="bx"/><line x1="484.5" y1="343.5" x2="498.5" y2="343.5" class="md"/><circle cx="491.43" cy="366" r="1.25"/><line x1="491.43" y1="370.2" x2="491.43" y2="371.8" class="ax"/><line x1="511.5" y1="328.9" x2="511.5" y2="334.5" class="wk"/><line x1="511.5" y1="345.5" x2="511.5" y2="359.4" class="wk"/><rect x="504.5" y="334.5" width="14" height="11" fill="#4af092" class="bx"/><line x1="504.5" y1="339.5" x2="518.5" y2="339.5" class="md"/><line x1="511.5" y1="370.2" x2="511.5" y2="371.8" class="ax"/><line x1="531.5" y1="331.7" x2="531.5" y2="338.5" class="wk"/><line x1="531.5" y1="349.5" x2="531.5" y2="361.8" class="wk"/><rect x="524.5" y="338.5" width="14" height="11" fill="#ffd700" class="bx"/><line x1="524.5" y1="342.5" x2="538.5" y2="342.5" class="md"/><line x1="531.57" y1="370.2" x2="531.57" y2="371.8" class="ax"/><text x="513.5" y="380.42" class="gl" textLength="16.6" lengthAdjust="spacingAndGlyphs">PS (M)</text><line x1="298.9" y1="281.2" x2="298.9" y2="370.2" class="ax"/><line x1="298.9" y1="370.2" x2="543.2" y2="370.2" class="ax"/><line x1="297.3" y1="284.1" x2="298.9" y2="284.1" class="ax"/><text x="296.3" y="286.56" class="tl" textLength="9.93" lengthAdjust="spacingAndGlyphs">17.5</text><line x1="297.3" y1="306.4" x2="298.9" y2="306.4" class="ax"/><text x="296.3" y="308.86" class="tl" textLength="9.93" lengthAdjust="spacingAndGlyphs">15.0</text><line x1="297.3" y1="328.7" x2="298.9" y2="328.7" class="ax"/><text x="296.3" y="331.16" class="tl" textLength="9.93" lengthAdjust="spacingAndGlyphs">12.5</text><line x1="297.3" y1="351" x2="298.9" y2="351" class="ax"/><text x="296.3" y="353.46" class="tl" textLength="9.93" lengthAdjust="spacingAndGlyphs">10.0</text><text transform="translate(282.02,320.9) rotate(-90)" class="yl">Mg (%)</text><text x="368.15" y="270.47" class="lt" textLength="19.0" lengthAdjust="spacingAndGlyphs">Season</text><line x1="394.85" y1="264.8" x2="394.85" y2="271.6" class="wk"/><rect x="392.05" y="266" width="5.6" height="4.5" fill="#4af092" class="bx"/><line x1="392.05" y1="268.2" x2="397.65" y2="268.2" class="md" style="stroke-width:0.9"/><text x="401.55" y="270.44" class="ll" textLength="13.86" lengthAdjust="spacingAndGlyphs">Spring</text><line x1="422.35" y1="264.8" x2="422.35" y2="271.6" class="wk"/><rect x="419.55" y="266" width="5.6" height="4.5" fill="#ffd700" class="bx"/><line x1="419.55" y1="268.2" x2="425.15" y2="268.2" class="md" style="stroke-width:0.9"/><text x="429.05" y="270.44" class="ll" textLength="18.11" lengthAdjust="spacingAndGlyphs">Summer</text><line x1="453.85" y1="264.8" x2="453.85" y2="271.6" class="wk"/><rect x="451.05" y="266" width="5.6" height="4.5" fill="#56c9ec" class="bx"/><line x1="451.05" y1="268.2" x2="456.65" y2="268.2" class="md" style="stroke-width:0.9"/><text x="460.55" y="270.44" class="ll" textLength="13.85" lengthAdjust="spacingAndGlyphs">Winter</text></g>
<g><line x1="39.5" y1="486.2" x2="39.5" y2="487.5" class="wk"/><line x1="39.5" y1="489.5" x2="39.5" y2="490.8" class="wk"/><rect x="32.5" y="487.5" width="14" height="2" fill="#56c9ec" class="bx"/><line x1="32.5" y1="488.5" x2="46.5" y2="488.5" class="md"/><circle cx="39.23" cy="465.1" r="1.25"/><circle cx="39.23" cy="496.6" r="1.25"/><line x1="39.23" y1="500.4" x2="39.23" y2="502" class="ax"/><line x1="59.5" y1="481" x2="59.5" y2="484.5" class="wk"/><line x1="59.5" y1="488.5" x2="59.5" y2="490.4" class="wk"/><rect x="52.5" y="484.5" width="14" height="4" fill="#4af092" class="bx"/><line x1="52.5" y1="486.5" x2="66.5" y2="486.5" class="md"/><circle cx="59.3" cy="477.7" r="1.25"/><line x1="59.3" y1="500.4" x2="59.3" y2="502" class="ax"/><line x1="79.5" y1="482" x2="79.5" y2="484.5" class="wk"/><line x1="79.5" y1="488.5" x2="79.5" y2="491.5" class="wk"/><rect x="72.5" y="484.5" width="14" height="4" fill="#ffd700" class="bx"/><line x1="72.5" y1="486.5" x2="86.5" y2="486.5" class="md"/><circle cx="79.37" cy="479" r="1.25"/><line x1="79.37" y1="500.4" x2="79.37" y2="502" class="ax"/><text x="59.35" y="510.62" class="gl" textLength="13.8" lengthAdjust="spacingAndGlyphs">PR (F)</text><line x1="99.5" y1="464.5" x2="99.5" y2="467.5" class="wk"/><line x1="99.5" y1="472.5" x2="99.5" y2="475.5" class="wk"/><rect x="92.5" y="467.5" width="14" height="5" fill="#56c9ec" class="bx"/><line x1="92.5" y1="470.5" x2="106.5" y2="470.5" class="md"/><circle cx="99.43" cy="417.3" r="1.25"/><circle cx="99.43" cy="488.2" r="1.25"/><line x1="99.43" y1="500.4" x2="99.43" y2="502" class="ax"/><line x1="119.5" y1="452.7" x2="119.5" y2="461.5" class="wk"/><line x1="119.5" y1="470.5" x2="119.5" y2="474.3" class="wk"/><rect x="112.5" y="461.5" width="14" height="9" fill="#4af092" class="bx"/><line x1="112.5" y1="466.5" x2="126.5" y2="466.5" class="md"/><circle cx="119.5" cy="445.7" r="1.25"/><line x1="119.5" y1="500.4" x2="119.5" y2="502" class="ax"/><line x1="139.5" y1="455.5" x2="139.5" y2="462.5" class="wk"/><line x1="139.5" y1="469.5" x2="139.5" y2="477.3" class="wk"/><rect x="132.5" y="462.5" width="14" height="7" fill="#ffd700" class="bx"/><line x1="132.5" y1="466.5" x2="146.5" y2="466.5" class="md"/><circle cx="139.57" cy="448.9" r="1.25"/><line x1="139.57" y1="500.4" x2="139.57" y2="502" class="ax"/><text x="119.6" y="510.62" class="gl" textLength="16.6" lengthAdjust="spacingAndGlyphs">PR (M)</text><line x1="159.5" y1="464.4" x2="159.5" y2="478.5" class="wk"/><line x1="159.5" y1="492.5" x2="159.5" y2="495.8" class="wk"/><rect x="152.5" y="478.5" width="14" height="14" fill="#56c9ec" class="bx"/><line x1="152.5" y1="485.5" x2="166.5" y2="485.5" class="md"/><line x1="159.63" y1="500.4" x2="159.63" y2="502" class="ax"/><line x1="179.5" y1="469.7" x2="179.5" y2="478.5" class="wk"/><line x1="179.5" y1="491.5" x2="179.5" y2="495.5" class="wk"/><rect x="172.5" y="478.5" width="14" height="13" fill="#4af092" class="bx"/><line x1="172.5" y1="486.5" x2="186.5" y2="486.5" class="md"/><line x1="179.7" y1="500.4" x2="179.7" y2="502" class="ax"/><line x1="199.5" y1="476.1" x2="199.5" y2="480.5" class="wk"/><line x1="199.5" y1="485.5" x2="199.5" y2="487" class="wk"/><rect x="192.5" y="480.5" width="14" height="5" fill="#ffd700" class="bx"/><line x1="192.5" y1="483.5" x2="206.5" y2="483.5" class="md"/><line x1="199.77" y1="500.4" x2="199.77" y2="502" class="ax"/><text x="179.35" y="510.62" class="gl" textLength="13.8" lengthAdjust="spacingAndGlyphs">PS (F)</text><line x1="219.5" y1="415.4" x2="219.5" y2="447.5" class="wk"/><line x1="219.5" y1="479.5" x2="219.5" y2="487.7" class="wk"/><rect x="212.5" y="447.5" width="14" height="32" fill="#56c9ec" class="bx"/><line x1="212.5" y1="462.5" x2="226.5" y2="462.5" class="md"/><line x1="219.83" y1="500.4" x2="219.83" y2="502" class="ax"/><line x1="239.5" y1="426.9" x2="239.5" y2="446.5" class="wk"/><line x1="239.5" y1="477.5" x2="239.5" y2="487.4" class="wk"/><rect x="232.5" y="446.5" width="15" height="31" fill="#4af092" class="bx"/><line x1="232.5" y1="465.5" x2="247.5" y2="465.5" class="md"/><line x1="239.9" y1="500.4" x2="239.9" y2="502" class="ax"/><line x1="259.5" y1="441.3" x2="259.5" y2="452.5" class="wk"/><line x1="259.5" y1="463.5" x2="259.5" y2="466.9" class="wk"/><rect x="252.5" y="452.5" width="15" height="11" fill="#ffd700" class="bx"/><line x1="252.5" y1="460.5" x2="267.5" y2="460.5" class="md"/><line x1="259.97" y1="500.4" x2="259.97" y2="502" class="ax"/><text x="239.4" y="510.62" class="gl" textLength="16.6" lengthAdjust="spacingAndGlyphs">PS (M)</text><line x1="27.5" y1="411.4" x2="27.5" y2="500.4" class="ax"/><line x1="27.5" y1="500.4" x2="271.7" y2="500.4" class="ax"/><line x1="25.9" y1="415.7" x2="27.5" y2="415.7" class="ax"/><text x="24.9" y="418.16" class="tl" textLength="9.93" lengthAdjust="spacingAndGlyphs">12.5</text><line x1="25.9" y1="433.2" x2="27.5" y2="433.2" class="ax"/><text x="24.9" y="435.66" class="tl" textLength="9.93" lengthAdjust="spacingAndGlyphs">10.0</text><line x1="25.9" y1="450.9" x2="27.5" y2="450.9" class="ax"/><text x="24.9" y="453.36" class="tl" textLength="7.09" lengthAdjust="spacingAndGlyphs">7.5</text><line x1="25.9" y1="468.3" x2="27.5" y2="468.3" class="ax"/><text x="24.9" y="470.76" class="tl" textLength="7.09" lengthAdjust="spacingAndGlyphs">5.0</text><line x1="25.9" y1="486" x2="27.5" y2="486" class="ax"/><text x="24.9" y="488.46" class="tl" textLength="7.09" lengthAdjust="spacingAndGlyphs">2.5</text><text transform="translate(9.72,451.1) rotate(-90)" class="yl">Fe (%)</text><text x="96.7" y="400.87" class="lt" textLength="19.0" lengthAdjust="spacingAndGlyphs">Season</text><line x1="123.4" y1="395.2" x2="123.4" y2="402" class="wk"/><rect x="120.6" y="396.4" width="5.6" height="4.5" fill="#4af092" class="bx"/><line x1="120.6" y1="398.6" x2="126.2" y2="398.6" class="md" style="stroke-width:0.9"/><text x="130.1" y="400.84" class="ll" textLength="13.86" lengthAdjust="spacingAndGlyphs">Spring</text><line x1="150.9" y1="395.2" x2="150.9" y2="402" class="wk"/><rect x="148.1" y="396.4" width="5.6" height="4.5" fill="#ffd700" class="bx"/><line x1="148.1" y1="398.6" x2="153.7" y2="398.6" class="md" style="stroke-width:0.9"/><text x="157.6" y="400.84" class="ll" textLength="18.11" lengthAdjust="spacingAndGlyphs">Summer</text><line x1="182.4" y1="395.2" x2="182.4" y2="402" class="wk"/><rect x="179.6" y="396.4" width="5.6" height="4.5" fill="#56c9ec" class="bx"/><line x1="179.6" y1="398.6" x2="185.2" y2="398.6" class="md" style="stroke-width:0.9"/><text x="189.1" y="400.84" class="ll" textLength="13.85" lengthAdjust="spacingAndGlyphs">Winter</text></g>
<g><line x1="306.5" y1="430.6" x2="306.5" y2="443.5" class="wk"/><line x1="306.5" y1="458.5" x2="306.5" y2="468.4" class="wk"/><rect x="298.5" y="443.5" width="15" height="15" fill="#56c9ec" class="bx"/><line x1="298.5" y1="450.5" x2="313.5" y2="450.5" class="md"/><circle cx="306.23" cy="496.6" r="1.25"/><line x1="306.23" y1="500.4" x2="306.23" y2="502" class="ax"/><line x1="326.5" y1="461" x2="326.5" y2="466.5" class="wk"/><line x1="326.5" y1="473.5" x2="326.5" y2="482.8" class="wk"/><rect x="319.5" y="466.5" width="14" height="7" fill="#4af092" class="bx"/><line x1="319.5" y1="470.5" x2="333.5" y2="470.5" class="md"/><circle cx="326.7" cy="432.2" r="1.25"/><circle cx="326.7" cy="438.6" r="1.25"/><circle cx="326.7" cy="452.1" r="1.25"/><circle cx="326.7" cy="454.7" r="1.25"/><line x1="326.7" y1="500.4" x2="326.7" y2="502" class="ax"/><line x1="347.5" y1="467.3" x2="347.5" y2="479.5" class="wk"/><line x1="347.5" y1="491.5" x2="347.5" y2="495.7" class="wk"/><rect x="339.5" y="479.5" width="15" height="12" fill="#ffd700" class="bx"/><line x1="339.5" y1="488.5" x2="354.5" y2="488.5" class="md"/><circle cx="347.17" cy="457.3" r="1.25"/><circle cx="347.17" cy="458.8" r="1.25"/><line x1="347.17" y1="500.4" x2="347.17" y2="502" class="ax"/><text x="330.7" y="510.62" class="gl" textLength="13.8" lengthAdjust="spacingAndGlyphs">PR (F)</text><line x1="367.5" y1="430.6" x2="367.5" y2="443.5" class="wk"/><line x1="367.5" y1="458.5" x2="367.5" y2="468.4" class="wk"/><rect x="360.5" y="443.5" width="14" height="15" fill="#56c9ec" class="bx"/><line x1="360.5" y1="450.5" x2="374.5" y2="450.5" class="md"/><circle cx="367.63" cy="496.6" r="1.25"/><line x1="367.63" y1="500.4" x2="367.63" y2="502" class="ax"/><line x1="388.5" y1="461" x2="388.5" y2="466.5" class="wk"/><line x1="388.5" y1="473.5" x2="388.5" y2="482.8" class="wk"/><rect x="380.5" y="466.5" width="15" height="7" fill="#4af092" class="bx"/><line x1="380.5" y1="470.5" x2="395.5" y2="470.5" class="md"/><circle cx="388.1" cy="432.2" r="1.25"/><circle cx="388.1" cy="438.6" r="1.25"/><circle cx="388.1" cy="452.1" r="1.25"/><circle cx="388.1" cy="454.7" r="1.25"/><line x1="388.1" y1="500.4" x2="388.1" y2="502" class="ax"/><line x1="408.5" y1="467.3" x2="408.5" y2="479.5" class="wk"/><line x1="408.5" y1="491.5" x2="408.5" y2="495.7" class="wk"/><rect x="401.5" y="479.5" width="14" height="12" fill="#ffd700" class="bx"/><line x1="401.5" y1="488.5" x2="415.5" y2="488.5" class="md"/><circle cx="408.57" cy="457.3" r="1.25"/><circle cx="408.57" cy="458.8" r="1.25"/><line x1="408.57" y1="500.4" x2="408.57" y2="502" class="ax"/><text x="390.9" y="510.62" class="gl" textLength="16.6" lengthAdjust="spacingAndGlyphs">PR (M)</text><line x1="429.5" y1="420.9" x2="429.5" y2="440.5" class="wk"/><line x1="429.5" y1="465.5" x2="429.5" y2="477.7" class="wk"/><rect x="421.5" y="440.5" width="15" height="25" fill="#56c9ec" class="bx"/><line x1="421.5" y1="453.5" x2="436.5" y2="453.5" class="md"/><line x1="429.03" y1="500.4" x2="429.03" y2="502" class="ax"/><line x1="449.5" y1="442.1" x2="449.5" y2="451.5" class="wk"/><line x1="449.5" y1="474.5" x2="449.5" y2="490.5" class="wk"/><rect x="442.5" y="451.5" width="14" height="23" fill="#4af092" class="bx"/><line x1="442.5" y1="464.5" x2="456.5" y2="464.5" class="md"/><circle cx="449.5" cy="415.2" r="1.25"/><line x1="449.5" y1="500.4" x2="449.5" y2="502" class="ax"/><line x1="469.5" y1="473.5" x2="469.5" y2="477.5" class="wk"/><line x1="469.5" y1="486.5" x2="469.5" y2="490.5" class="wk"/><rect x="462.5" y="477.5" width="15" height="9" fill="#ffd700" class="bx"/><line x1="462.5" y1="481.5" x2="477.5" y2="481.5" class="md"/><circle cx="469.97" cy="452.3" r="1.25"/><circle cx="469.97" cy="459.2" r="1.25"/><line x1="469.97" y1="500.4" x2="469.97" y2="502" class="ax"/><text x="451" y="510.62" class="gl" textLength="13.8" lengthAdjust="spacingAndGlyphs">PS (F)</text><line x1="490.5" y1="420.9" x2="490.5" y2="440.5" class="wk"/><line x1="490.5" y1="465.5" x2="490.5" y2="477.7" class="wk"/><rect x="483.5" y="440.5" width="14" height="25" fill="#56c9ec" class="bx"/><line x1="483.5" y1="453.5" x2="497.5" y2="453.5" class="md"/><line x1="490.43" y1="500.4" x2="490.43" y2="502" class="ax"/><line x1="510.5" y1="442.1" x2="510.5" y2="451.5" class="wk"/><line x1="510.5" y1="474.5" x2="510.5" y2="490.5" class="wk"/><rect x="503.5" y="451.5" width="15" height="23" fill="#4af092" class="bx"/><line x1="503.5" y1="464.5" x2="518.5" y2="464.5" class="md"/><circle cx="510.9" cy="415.2" r="1.25"/><line x1="510.9" y1="500.4" x2="510.9" y2="502" class="ax"/><line x1="531.5" y1="473.5" x2="531.5" y2="477.5" class="wk"/><line x1="531.5" y1="486.5" x2="531.5" y2="490.5" class="wk"/><rect x="524.5" y="477.5" width="14" height="9" fill="#ffd700" class="bx"/><line x1="524.5" y1="481.5" x2="538.5" y2="481.5" class="md"/><circle cx="531.37" cy="452.3" r="1.25"/><circle cx="531.37" cy="459.2" r="1.25"/><line x1="531.37" y1="500.4" x2="531.37" y2="502" class="ax"/><text x="513.5" y="510.62" class="gl" textLength="16.6" lengthAdjust="spacingAndGlyphs">PS (M)</text><line x1="294.1" y1="411.4" x2="294.1" y2="500.4" class="ax"/><line x1="294.1" y1="500.4" x2="543.2" y2="500.4" class="ax"/><line x1="292.5" y1="414.1" x2="294.1" y2="414.1" class="ax"/><text x="291.5" y="416.56" class="tl" textLength="5.67" lengthAdjust="spacingAndGlyphs">16</text><line x1="292.5" y1="440.6" x2="294.1" y2="440.6" class="ax"/><text x="291.5" y="443.06" class="tl" textLength="5.67" lengthAdjust="spacingAndGlyphs">12</text><line x1="292.5" y1="467.3" x2="294.1" y2="467.3" class="ax"/><text x="291.5" y="469.76" class="tl" textLength="2.84" lengthAdjust="spacingAndGlyphs">8</text><line x1="292.5" y1="494" x2="294.1" y2="494" class="ax"/><text x="291.5" y="496.46" class="tl" textLength="2.84" lengthAdjust="spacingAndGlyphs">4</text><text transform="translate(282.02,451.1) rotate(-90)" class="yl">Cu (%)</text><text x="365.75" y="400.87" class="lt" textLength="19.0" lengthAdjust="spacingAndGlyphs">Season</text><line x1="392.45" y1="395.2" x2="392.45" y2="402" class="wk"/><rect x="389.65" y="396.4" width="5.6" height="4.5" fill="#4af092" class="bx"/><line x1="389.65" y1="398.6" x2="395.25" y2="398.6" class="md" style="stroke-width:0.9"/><text x="399.15" y="400.84" class="ll" textLength="13.86" lengthAdjust="spacingAndGlyphs">Spring</text><line x1="419.95" y1="395.2" x2="419.95" y2="402" class="wk"/><rect x="417.15" y="396.4" width="5.6" height="4.5" fill="#ffd700" class="bx"/><line x1="417.15" y1="398.6" x2="422.75" y2="398.6" class="md" style="stroke-width:0.9"/><text x="426.65" y="400.84" class="ll" textLength="18.11" lengthAdjust="spacingAndGlyphs">Summer</text><line x1="451.45" y1="395.2" x2="451.45" y2="402" class="wk"/><rect x="448.65" y="396.4" width="5.6" height="4.5" fill="#56c9ec" class="bx"/><line x1="448.65" y1="398.6" x2="454.25" y2="398.6" class="md" style="stroke-width:0.9"/><text x="458.15" y="400.84" class="ll" textLength="13.85" lengthAdjust="spacingAndGlyphs">Winter</text></g>
<g><line x1="31.5" y1="566" x2="31.5" y2="572.5" class="wk"/><line x1="31.5" y1="589.5" x2="31.5" y2="596.5" class="wk"/><rect x="24.5" y="572.5" width="15" height="17" fill="#56c9ec" class="bx"/><line x1="24.5" y1="581.5" x2="39.5" y2="581.5" class="md"/><circle cx="31.82" cy="622.1" r="1.25"/><line x1="31.82" y1="630.9" x2="31.82" y2="632.5" class="ax"/><line x1="52.5" y1="576.1" x2="52.5" y2="582.5" class="wk"/><line x1="52.5" y1="591.5" x2="52.5" y2="596.9" class="wk"/><rect x="45.5" y="582.5" width="14" height="9" fill="#4af092" class="bx"/><line x1="45.5" y1="587.5" x2="59.5" y2="587.5" class="md"/><circle cx="52.55" cy="561.3" r="1.25"/><circle cx="52.55" cy="568" r="1.25"/><line x1="52.55" y1="630.9" x2="52.55" y2="632.5" class="ax"/><line x1="73.5" y1="576.1" x2="73.5" y2="583.5" class="wk"/><line x1="73.5" y1="593.5" x2="73.5" y2="599.7" class="wk"/><rect x="65.5" y="583.5" width="15" height="10" fill="#ffd700" class="bx"/><line x1="65.5" y1="588.5" x2="80.5" y2="588.5" class="md"/><line x1="73.28" y1="630.9" x2="73.28" y2="632.5" class="ax"/><text x="59.35" y="641.12" class="gl" textLength="13.8" lengthAdjust="spacingAndGlyphs">PR (F)</text><line x1="94.5" y1="583.3" x2="94.5" y2="588.5" class="wk"/><line x1="94.5" y1="601.5" x2="94.5" y2="606.8" class="wk"/><rect x="86.5" y="588.5" width="15" height="13" fill="#56c9ec" class="bx"/><line x1="86.5" y1="595.5" x2="101.5" y2="595.5" class="md"/><circle cx="94.02" cy="626.9" r="1.25"/><line x1="94.02" y1="630.9" x2="94.02" y2="632.5" class="ax"/><line x1="114.5" y1="591.1" x2="114.5" y2="596.5" class="wk"/><line x1="114.5" y1="603.5" x2="114.5" y2="607.7" class="wk"/><rect x="107.5" y="596.5" width="15" height="7" fill="#4af092" class="bx"/><line x1="107.5" y1="600.5" x2="122.5" y2="600.5" class="md"/><circle cx="114.75" cy="579.3" r="1.25"/><circle cx="114.75" cy="584.7" r="1.25"/><line x1="114.75" y1="630.9" x2="114.75" y2="632.5" class="ax"/><line x1="135.5" y1="591.1" x2="135.5" y2="597.5" class="wk"/><line x1="135.5" y1="604.5" x2="135.5" y2="609.4" class="wk"/><rect x="128.5" y="597.5" width="14" height="7" fill="#ffd700" class="bx"/><line x1="128.5" y1="601.5" x2="142.5" y2="601.5" class="md"/><line x1="135.48" y1="630.9" x2="135.48" y2="632.5" class="ax"/><text x="119.6" y="641.12" class="gl" textLength="16.6" lengthAdjust="spacingAndGlyphs">PR (M)</text><line x1="156.5" y1="546.1" x2="156.5" y2="572.5" class="wk"/><line x1="156.5" y1="591.5" x2="156.5" y2="606.1" class="wk"/><rect x="148.5" y="572.5" width="15" height="19" fill="#56c9ec" class="bx"/><line x1="148.5" y1="588.5" x2="163.5" y2="588.5" class="md"/><line x1="156.22" y1="630.9" x2="156.22" y2="632.5" class="ax"/><line x1="176.5" y1="559.2" x2="176.5" y2="574.5" class="wk"/><line x1="176.5" y1="597.5" x2="176.5" y2="605.4" class="wk"/><rect x="169.5" y="574.5" width="15" height="23" fill="#4af092" class="bx"/><line x1="169.5" y1="586.5" x2="184.5" y2="586.5" class="md"/><line x1="176.95" y1="630.9" x2="176.95" y2="632.5" class="ax"/><line x1="197.5" y1="577.3" x2="197.5" y2="584.5" class="wk"/><line x1="197.5" y1="592.5" x2="197.5" y2="600.4" class="wk"/><rect x="190.5" y="584.5" width="15" height="8" fill="#ffd700" class="bx"/><line x1="190.5" y1="588.5" x2="205.5" y2="588.5" class="md"/><line x1="197.68" y1="630.9" x2="197.68" y2="632.5" class="ax"/><text x="179.35" y="641.12" class="gl" textLength="13.8" lengthAdjust="spacingAndGlyphs">PS (F)</text><line x1="218.5" y1="567.8" x2="218.5" y2="587.5" class="wk"/><line x1="218.5" y1="603.5" x2="218.5" y2="614.7" class="wk"/><rect x="211.5" y="587.5" width="14" height="16" fill="#56c9ec" class="bx"/><line x1="211.5" y1="600.5" x2="225.5" y2="600.5" class="md"/><line x1="218.42" y1="630.9" x2="218.42" y2="632.5" class="ax"/><line x1="239.5" y1="578" x2="239.5" y2="590.5" class="wk"/><line x1="239.5" y1="607.5" x2="239.5" y2="614.2" class="wk"/><rect x="231.5" y="590.5" width="15" height="17" fill="#4af092" class="bx"/><line x1="231.5" y1="599.5" x2="246.5" y2="599.5" class="md"/><line x1="239.15" y1="630.9" x2="239.15" y2="632.5" class="ax"/><line x1="259.5" y1="592" x2="259.5" y2="597.5" class="wk"/><line x1="259.5" y1="603.5" x2="259.5" y2="610.1" class="wk"/><rect x="252.5" y="597.5" width="15" height="6" fill="#ffd700" class="bx"/><line x1="252.5" y1="600.5" x2="267.5" y2="600.5" class="md"/><line x1="259.88" y1="630.9" x2="259.88" y2="632.5" class="ax"/><text x="239.4" y="641.12" class="gl" textLength="16.6" lengthAdjust="spacingAndGlyphs">PS (M)</text><line x1="19.2" y1="541.9" x2="19.2" y2="630.9" class="ax"/><line x1="19.2" y1="630.9" x2="271.7" y2="630.9" class="ax"/><line x1="17.6" y1="549.5" x2="19.2" y2="549.5" class="ax"/><text x="16.6" y="551.96" class="tl" textLength="2.84" lengthAdjust="spacingAndGlyphs">5</text><line x1="17.6" y1="568.6" x2="19.2" y2="568.6" class="ax"/><text x="16.6" y="571.06" class="tl" textLength="2.84" lengthAdjust="spacingAndGlyphs">4</text><line x1="17.6" y1="587.9" x2="19.2" y2="587.9" class="ax"/><text x="16.6" y="590.36" class="tl" textLength="2.84" lengthAdjust="spacingAndGlyphs">3</text><line x1="17.6" y1="607" x2="19.2" y2="607" class="ax"/><text x="16.6" y="609.46" class="tl" textLength="2.84" lengthAdjust="spacingAndGlyphs">2</text><line x1="17.6" y1="626" x2="19.2" y2="626" class="ax"/><text x="16.6" y="628.46" class="tl" textLength="2.84" lengthAdjust="spacingAndGlyphs">1</text><text transform="translate(9.72,581.6) rotate(-90)" class="yl">Mn (%)</text><text x="92.55" y="531.27" class="lt" textLength="19.0" lengthAdjust="spacingAndGlyphs">Season</text><line x1="119.25" y1="525.6" x2="119.25" y2="532.4" class="wk"/><rect x="116.45" y="526.8" width="5.6" height="4.5" fill="#4af092" class="bx"/><line x1="116.45" y1="529" x2="122.05" y2="529" class="md" style="stroke-width:0.9"/><text x="125.95" y="531.24" class="ll" textLength="13.86" lengthAdjust="spacingAndGlyphs">Spring</text><line x1="146.75" y1="525.6" x2="146.75" y2="532.4" class="wk"/><rect x="143.95" y="526.8" width="5.6" height="4.5" fill="#ffd700" class="bx"/><line x1="143.95" y1="529" x2="149.55" y2="529" class="md" style="stroke-width:0.9"/><text x="153.45" y="531.24" class="ll" textLength="18.11" lengthAdjust="spacingAndGlyphs">Summer</text><line x1="178.25" y1="525.6" x2="178.25" y2="532.4" class="wk"/><rect x="175.45" y="526.8" width="5.6" height="4.5" fill="#56c9ec" class="bx"/><line x1="175.45" y1="529" x2="181.05" y2="529" class="md" style="stroke-width:0.9"/><text x="184.95" y="531.24" class="ll" textLength="13.85" lengthAdjust="spacingAndGlyphs">Winter</text></g>
<g><line x1="303.5" y1="570.1" x2="303.5" y2="582.5" class="wk"/><line x1="303.5" y1="593.5" x2="303.5" y2="596.9" class="wk"/><rect x="295.5" y="582.5" width="15" height="11" fill="#56c9ec" class="bx"/><line x1="295.5" y1="589.5" x2="310.5" y2="589.5" class="md"/><circle cx="303.22" cy="556.9" r="1.25"/><line x1="303.22" y1="631.05" x2="303.22" y2="632.65" class="ax"/><line x1="323.5" y1="578.3" x2="323.5" y2="584.5" class="wk"/><line x1="323.5" y1="593.5" x2="323.5" y2="598.6" class="wk"/><rect x="316.5" y="584.5" width="15" height="9" fill="#4af092" class="bx"/><line x1="316.5" y1="590.5" x2="331.5" y2="590.5" class="md"/><line x1="323.95" y1="631.05" x2="323.95" y2="632.65" class="ax"/><line x1="344.5" y1="589.3" x2="344.5" y2="596.5" class="wk"/><line x1="344.5" y1="602.5" x2="344.5" y2="605.6" class="wk"/><rect x="337.5" y="596.5" width="15" height="6" fill="#ffd700" class="bx"/><line x1="337.5" y1="600.5" x2="352.5" y2="600.5" class="md"/><circle cx="344.68" cy="616.2" r="1.25"/><line x1="344.68" y1="631.05" x2="344.68" y2="632.65" class="ax"/><text x="330.7" y="641.27" class="gl" textLength="13.8" lengthAdjust="spacingAndGlyphs">PR (F)</text><line x1="365.5" y1="591.6" x2="365.5" y2="601.5" class="wk"/><line x1="365.5" y1="609.5" x2="365.5" y2="612.4" class="wk"/><rect x="358.5" y="601.5" width="14" height="8" fill="#56c9ec" class="bx"/><line x1="358.5" y1="607.5" x2="372.5" y2="607.5" class="md"/><circle cx="365.4" cy="581.9" r="1.25"/><line x1="365.4" y1="631.05" x2="365.4" y2="632.65" class="ax"/><line x1="386.5" y1="597.8" x2="386.5" y2="603.5" class="wk"/><line x1="386.5" y1="610.5" x2="386.5" y2="613.5" class="wk"/><rect x="378.5" y="603.5" width="15" height="7" fill="#4af092" class="bx"/><line x1="378.5" y1="607.5" x2="393.5" y2="607.5" class="md"/><line x1="386.13" y1="631.05" x2="386.13" y2="632.65" class="ax"/><line x1="406.5" y1="606.6" x2="406.5" y2="611.5" class="wk"/><line x1="406.5" y1="617.5" x2="406.5" y2="619.3" class="wk"/><rect x="399.5" y="611.5" width="15" height="6" fill="#ffd700" class="bx"/><line x1="399.5" y1="614.5" x2="414.5" y2="614.5" class="md"/><circle cx="406.86" cy="626.9" r="1.25"/><line x1="406.86" y1="631.05" x2="406.86" y2="632.65" class="ax"/><text x="390.9" y="641.27" class="gl" textLength="16.6" lengthAdjust="spacingAndGlyphs">PR (M)</text><line x1="427.5" y1="551.1" x2="427.5" y2="562.5" class="wk"/><line x1="427.5" y1="575.5" x2="427.5" y2="583.9" class="wk"/><rect x="420.5" y="562.5" width="14" height="13" fill="#56c9ec" class="bx"/><line x1="420.5" y1="567.5" x2="434.5" y2="567.5" class="md"/><line x1="427.58" y1="631.05" x2="427.58" y2="632.65" class="ax"/><line x1="448.5" y1="552" x2="448.5" y2="562.5" class="wk"/><line x1="448.5" y1="574.5" x2="448.5" y2="581.1" class="wk"/><rect x="440.5" y="562.5" width="15" height="12" fill="#4af092" class="bx"/><line x1="440.5" y1="568.5" x2="455.5" y2="568.5" class="md"/><circle cx="448.31" cy="545.6" r="1.25"/><line x1="448.31" y1="631.05" x2="448.31" y2="632.65" class="ax"/><line x1="469.5" y1="569.8" x2="469.5" y2="576.5" class="wk"/><line x1="469.5" y1="584.5" x2="469.5" y2="591.7" class="wk"/><rect x="461.5" y="576.5" width="15" height="8" fill="#ffd700" class="bx"/><line x1="461.5" y1="581.5" x2="476.5" y2="581.5" class="md"/><circle cx="469.04" cy="552.7" r="1.25"/><circle cx="469.04" cy="561.5" r="1.25"/><line x1="469.04" y1="631.05" x2="469.04" y2="632.65" class="ax"/><text x="451" y="641.27" class="gl" textLength="13.8" lengthAdjust="spacingAndGlyphs">PS (F)</text><line x1="489.5" y1="577.6" x2="489.5" y2="585.5" class="wk"/><line x1="489.5" y1="595.5" x2="489.5" y2="602.4" class="wk"/><rect x="482.5" y="585.5" width="15" height="10" fill="#56c9ec" class="bx"/><line x1="482.5" y1="589.5" x2="497.5" y2="589.5" class="md"/><line x1="489.76" y1="631.05" x2="489.76" y2="632.65" class="ax"/><line x1="510.5" y1="578" x2="510.5" y2="586.5" class="wk"/><line x1="510.5" y1="594.5" x2="510.5" y2="600.5" class="wk"/><rect x="503.5" y="586.5" width="14" height="8" fill="#4af092" class="bx"/><line x1="503.5" y1="590.5" x2="517.5" y2="590.5" class="md"/><circle cx="510.49" cy="573.3" r="1.25"/><line x1="510.49" y1="631.05" x2="510.49" y2="632.65" class="ax"/><line x1="531.5" y1="591.7" x2="531.5" y2="596.5" class="wk"/><line x1="531.5" y1="603.5" x2="531.5" y2="608.8" class="wk"/><rect x="523.5" y="596.5" width="15" height="7" fill="#ffd700" class="bx"/><line x1="523.5" y1="599.5" x2="538.5" y2="599.5" class="md"/><circle cx="531.22" cy="578.7" r="1.25"/><circle cx="531.22" cy="585.1" r="1.25"/><line x1="531.22" y1="631.05" x2="531.22" y2="632.65" class="ax"/><text x="513.5" y="641.27" class="gl" textLength="16.6" lengthAdjust="spacingAndGlyphs">PS (M)</text><line x1="291" y1="542.05" x2="291" y2="631.05" class="ax"/><line x1="291" y1="631.05" x2="543.2" y2="631.05" class="ax"/><line x1="289.4" y1="550.5" x2="291" y2="550.5" class="ax"/><text x="288.4" y="552.96" class="tl" textLength="2.84" lengthAdjust="spacingAndGlyphs">4</text><line x1="289.4" y1="578.2" x2="291" y2="578.2" class="ax"/><text x="288.4" y="580.66" class="tl" textLength="2.84" lengthAdjust="spacingAndGlyphs">3</text><line x1="289.4" y1="606.4" x2="291" y2="606.4" class="ax"/><text x="288.4" y="608.86" class="tl" textLength="2.84" lengthAdjust="spacingAndGlyphs">2</text><text transform="translate(282.02,581.75) rotate(-90)" class="yl">K (%)</text><text x="364.2" y="531.27" class="lt" textLength="19.0" lengthAdjust="spacingAndGlyphs">Season</text><line x1="390.9" y1="525.6" x2="390.9" y2="532.4" class="wk"/><rect x="388.1" y="526.8" width="5.6" height="4.5" fill="#4af092" class="bx"/><line x1="388.1" y1="529" x2="393.7" y2="529" class="md" style="stroke-width:0.9"/><text x="397.6" y="531.24" class="ll" textLength="13.86" lengthAdjust="spacingAndGlyphs">Spring</text><line x1="418.4" y1="525.6" x2="418.4" y2="532.4" class="wk"/><rect x="415.6" y="526.8" width="5.6" height="4.5" fill="#ffd700" class="bx"/><line x1="415.6" y1="529" x2="421.2" y2="529" class="md" style="stroke-width:0.9"/><text x="425.1" y="531.24" class="ll" textLength="18.11" lengthAdjust="spacingAndGlyphs">Summer</text><line x1="449.9" y1="525.6" x2="449.9" y2="532.4" class="wk"/><rect x="447.1" y="526.8" width="5.6" height="4.5" fill="#56c9ec" class="bx"/><line x1="447.1" y1="529" x2="452.7" y2="529" class="md" style="stroke-width:0.9"/><text x="456.6" y="531.24" class="ll" textLength="13.85" lengthAdjust="spacingAndGlyphs">Winter</text></g>
</svg></body></html>
